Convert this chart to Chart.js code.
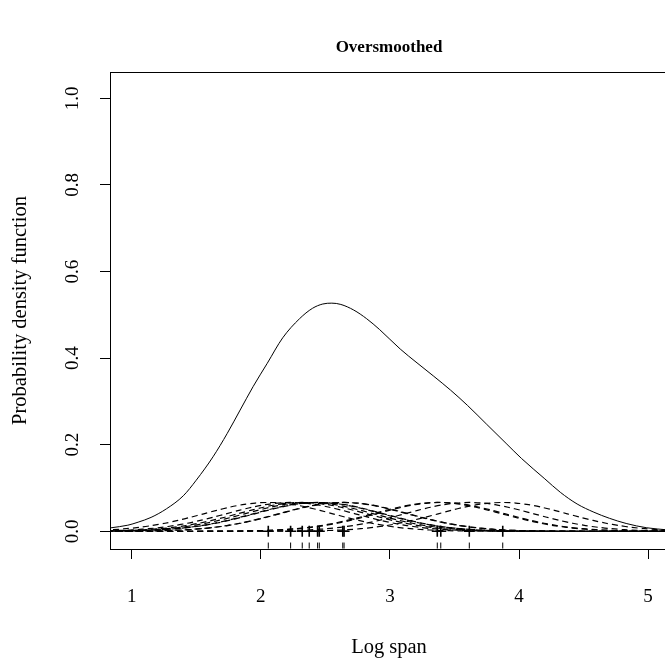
<!DOCTYPE html>
<html>
<head>
<meta charset="utf-8">
<script src="https://cdn.jsdelivr.net/npm/chart.js@4.4.0/dist/chart.umd.min.js"></script>
<style>
  html, body { margin: 0; padding: 0; background: #fff; overflow: hidden; }
  #wrap { width: 700px; height: 667px; }
</style>
</head>
<body>
<div id="wrap"><canvas id="density_chart"></canvas></div>
<script>
// observed log spans (rug ticks, crosses on the zero line, kernel centres)
const obs_points = [2.058, 2.231, 2.321, 2.375, 2.44, 2.453, 2.635, 2.645, 3.367, 3.394, 3.615, 3.874];

// solid density curve
const density_x = [0.84, 0.97, 1.05, 1.15, 1.27, 1.40, 1.50, 1.63, 1.74, 1.84, 1.94, 2.05, 2.17, 2.30, 2.40, 2.48,
                   2.55, 2.62, 2.72, 2.82, 2.92, 3.08, 3.21, 3.34, 3.47, 3.60, 3.75, 3.90, 4.02, 4.20, 4.32, 4.45,
                   4.58, 4.70, 4.83, 4.99, 5.16];
const density_y = [0.008, 0.014, 0.021, 0.032, 0.052, 0.082, 0.118, 0.172, 0.226, 0.280, 0.334, 0.388, 0.447, 0.491, 0.515, 0.525,
                   0.527, 0.524, 0.511, 0.491, 0.466, 0.421, 0.389, 0.358, 0.326, 0.291, 0.247, 0.203, 0.168, 0.121, 0.090, 0.063,
                   0.044, 0.030, 0.018, 0.008, 0.003];

// one dashed kernel bump (offset from its centre -> height)
const kernel_offset = [-2.0, -1.7, -1.5, -1.4, -1.3, -1.2, -1.1, -1.0, -0.9, -0.8, -0.7, -0.6, -0.5, -0.4, -0.3, -0.2, -0.1,
                       0, 0.1, 0.2, 0.3, 0.4, 0.5, 0.6, 0.7, 0.8, 0.9, 1.0, 1.1, 1.2, 1.3, 1.4, 1.5, 1.7, 2.0];
const kernel_height = [0, 0.0002, 0.0007, 0.0013, 0.0023, 0.0037, 0.0059, 0.0090, 0.0132, 0.0185, 0.0250, 0.0324, 0.0403, 0.0483, 0.0555, 0.0614, 0.0652,
                       0.0665, 0.0652, 0.0614, 0.0555, 0.0483, 0.0403, 0.0324, 0.0250, 0.0185, 0.0132, 0.0090, 0.0059, 0.0037, 0.0023, 0.0013, 0.0007, 0.0002, 0];
// every kernel is drawn over the same x grid, so the dashes line up on the flat parts
const kernel_grid = [0.5, 5.5];

const x_ticks = [1, 2, 3, 4, 5];
const y_ticks = [0, 0.2, 0.4, 0.6, 0.8, 1.0];
const y_tick_labels = ['0.0', '0.2', '0.4', '0.6', '0.8', '1.0'];

const serif = '"Liberation Serif", "Times New Roman", serif';

// one dashed dataset per observation
const kernel_sets = obs_points.map(c => ({
    type: 'line',
    data: [{x: kernel_grid[0], y: 0},
           ...kernel_offset.map((o, i) => ({x: c + o, y: kernel_height[i]})),
           {x: kernel_grid[1], y: 0}],
    borderColor: '#000',
    borderWidth: 1.2,
    borderDash: [6, 4],
    pointRadius: 0,
    tension: 0.3
}));

// box, rotated y labels and main title (R style)
const r_frame = {
    id: 'r_frame',
    afterDraw(chart) {
        const {ctx, chartArea: a, scales} = chart;
        ctx.save();
        ctx.strokeStyle = '#000';
        ctx.lineWidth = 1;
        ctx.strokeRect(Math.round(a.left) + 0.5, Math.round(a.top) + 0.5,
                       Math.round(a.right - a.left), Math.round(a.bottom - a.top));

        ctx.fillStyle = '#000';
        ctx.font = '19px ' + serif;
        ctx.textAlign = 'center';
        ctx.textBaseline = 'middle';
        y_ticks.forEach((v, i) => {
            const py = scales.y.getPixelForValue(v);
            ctx.save();
            ctx.translate(73, py);
            ctx.rotate(-Math.PI / 2);
            ctx.fillText(y_tick_labels[i], 0, 0);
            ctx.restore();
        });

        ctx.font = 'bold 17px ' + serif;
        ctx.fillText('Oversmoothed', (a.left + a.right) / 2, 48);
        ctx.restore();
    }
};

const density_chart = new Chart(document.getElementById('density_chart').getContext('2d'), {
    data: {
        datasets: [
            {
                type: 'line',
                data: density_x.map((x, i) => ({x: x, y: density_y[i]})),
                borderColor: '#000',
                borderWidth: 1,
                pointRadius: 0,
                cubicInterpolationMode: 'monotone'
            },
            ...kernel_sets,
            {
                // crosses on the zero line
                type: 'scatter',
                data: obs_points.map(x => ({x: x, y: 0})),
                pointStyle: 'cross',
                pointRadius: 5.5,
                borderColor: '#000',
                borderWidth: 1.6
            },
            {
                // rug along the bottom of the box
                type: 'scatter',
                data: obs_points.map(x => ({x: x, y: -0.033})),
                pointStyle: 'line',
                rotation: 90,
                pointRadius: 3,
                borderColor: '#000',
                borderWidth: 1
            }
        ]
    },
    options: {
        responsive: true,
        maintainAspectRatio: false,
        animation: false,
        layout: { padding: { top: 72, right: 32, left: 0, bottom: 0 } },
        plugins: {
            legend: { display: false },
            tooltip: { enabled: false }
        },
        scales: {
            x: {
                type: 'linear',
                min: 0.832,
                max: 5.154,
                afterBuildTicks: s => { s.ticks = x_ticks.map(v => ({value: v})); },
                afterFit: s => { s.height = 118; },
                border: { display: false },
                grid: { drawOnChartArea: false, drawTicks: true, tickLength: 10, color: '#000' },
                ticks: { color: '#000', font: { family: serif, size: 19 }, padding: 27, maxRotation: 0 },
                title: { display: true, text: 'Log span', color: '#000',
                         font: { family: serif, size: 20.5 }, padding: { top: 0, bottom: 7 } }
            },
            y: {
                type: 'linear',
                min: -0.041,
                max: 1.061,
                afterBuildTicks: s => { s.ticks = y_ticks.map(v => ({value: v})); },
                afterFit: s => { s.width = 110; },
                border: { display: false },
                grid: { drawOnChartArea: false, drawTicks: true, tickLength: 10, color: '#000' },
                ticks: { display: false },
                title: { display: true, text: 'Probability density function', color: '#000',
                         font: { family: serif, size: 20.5 }, padding: { top: 8.5, bottom: 0 } }
            }
        }
    },
    plugins: [r_frame]
});
</script>
</body>
</html>
